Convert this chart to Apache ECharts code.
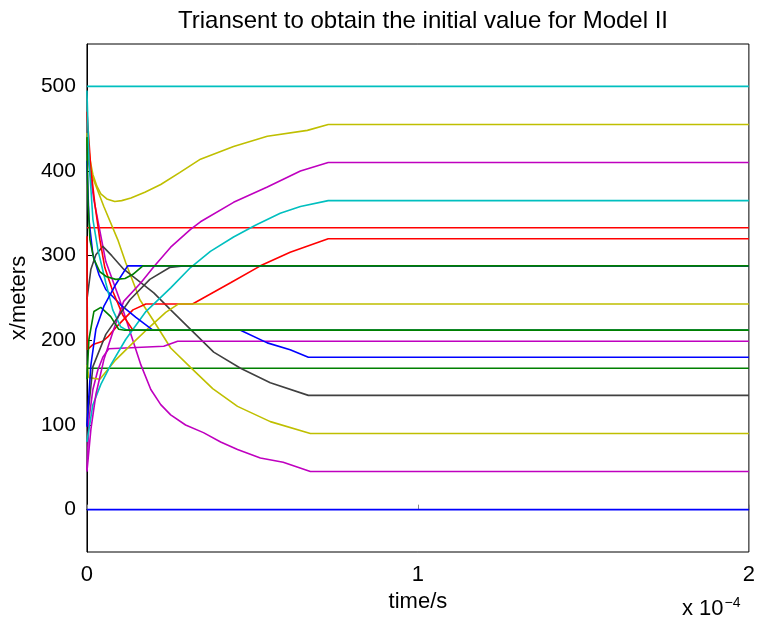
<!DOCTYPE html>
<html>
<head>
<meta charset="utf-8">
<title>Triansent to obtain the initial value for Model II</title>
<script src="https://cdn.jsdelivr.net/npm/echarts@6/dist/echarts.min.js"></script>
<style>
  html, body { margin: 0; padding: 0; background: #ffffff; }
  #chart { width: 758px; height: 625px; }
</style>
</head>
<body>
<div id="chart"></div>
<script>
// time is in units of 1e-4 s, positions in meters

// fixed nodes (constant over the whole run)
const tFixed = [0, 2];
const vFixed0 = [0, 0];
const vFixed167 = [167, 167];
const vFixed333 = [333, 333];
const vFixed500 = [500, 500];

// moving nodes
const tM3 = [0, 0.021, 0.057, 0.099, 0.133, 0.163, 0.193, 0.223, 0.253, 0.298, 0.352, 0.404, 0.455, 0.524, 0.593, 0.675, 2];
const vM3 = [425, 366, 293, 248, 207, 171, 142, 124, 112, 100, 91, 80, 71, 61, 56, 45, 45];

const tY3 = [0, 0.012, 0.051, 0.093, 0.117, 0.16, 0.208, 0.253, 0.313, 0.38, 0.455, 0.554, 0.675, 2];
const vY3 = [440, 398, 358, 319, 292, 248, 219, 191, 168, 143, 122, 104, 90, 90];

const tK2 = [0, 0.012, 0.027, 0.048, 0.075, 0.111, 0.202, 0.253, 0.313, 0.383, 0.464, 0.554, 0.669, 2];
const vK2 = [248, 284, 301, 311, 300, 284, 256, 236, 213, 186, 167, 150, 135, 135];

const tB1 = [0, 0.006, 0.018, 0.036, 0.057, 0.102, 0.148, 0.199, 0.464, 0.545, 0.614, 0.669, 2];
const vB1 = [412, 343, 301, 278, 260, 242, 227, 212, 212, 197, 189, 180, 180];

const tR1 = [0, 0.0015, 0.018, 0.048, 0.063, 0.087, 0.139, 0.178, 0.319, 0.434, 0.524, 0.614, 0.729, 2];
const vR1 = [323, 189, 195, 199, 204, 215, 236, 243, 243, 268, 288, 304, 320, 320];

const tC2 = [0, 0.006, 0.018, 0.033, 0.057, 0.078, 0.102, 0.12, 2];
const vC2 = [495, 414, 343, 307, 268, 236, 216, 212, 212];

const tR2 = [0, 0.012, 0.024, 0.039, 0.054, 0.078, 0.108, 0.139, 2];
const vR2 = [470, 402, 361, 319, 286, 258, 230, 212, 212];

const tM2 = [0, 0.006, 0.018, 0.033, 0.048, 0.066, 0.232, 0.274, 2];
const vM2 = [47, 106, 142, 165, 180, 190, 193, 199, 199];

const tY2 = [0, 0.006, 0.039, 0.087, 0.139, 0.19, 0.238, 0.277, 2];
const vY2 = [171, 156, 154, 177, 197, 216, 233, 243, 243];

const tK1 = [0, 0.018, 0.057, 0.13, 0.19, 0.25, 0.298, 2];
const vK1 = [100, 169, 207, 248, 272, 286, 288, 288];

const tB2 = [0, 0.003, 0.012, 0.027, 0.051, 0.087, 0.123, 2];
const vB2 = [98, 118, 171, 213, 240, 266, 288, 288];

const tGa = [0, 0.003, 0.009, 0.021, 0.039, 0.06, 0.087, 0.115, 0.139, 0.169, 2];
const vGa = [440, 366, 319, 296, 281, 275, 272, 273, 278, 288, 288];

const tGb = [0, 0.006, 0.021, 0.042, 0.072, 0.096, 0.114, 2];
const vGb = [154, 201, 234, 239, 228, 213, 212, 212];

const tC1 = [0, 0.018, 0.042, 0.072, 0.117, 0.178, 0.253, 0.313, 0.373, 0.443, 0.509, 0.584, 0.645, 0.729, 2];
const vC1 = [80, 124, 148, 171, 201, 234, 262, 286, 305, 322, 336, 350, 358, 365, 365];

const tM1 = [0, 0.012, 0.027, 0.051, 0.081, 0.111, 0.163, 0.202, 0.253, 0.313, 0.343, 0.443, 0.545, 0.645, 0.729, 2];
const vM1 = [45, 95, 136, 177, 213, 246, 268, 287, 310, 331, 340, 363, 381, 400, 410, 410];

const tY1 = [0, 0.01, 0.018, 0.03, 0.042, 0.06, 0.084, 0.105, 0.133, 0.175, 0.223, 0.28, 0.343, 0.443, 0.545, 0.666, 0.729, 2];
const vY1 = [445, 412, 396, 382, 373, 367, 364, 365, 368, 375, 384, 398, 414, 429, 441, 448, 455, 455];

// tick labels
const xTicks = [0, 1, 2];
const yTicks = [0, 100, 200, 300, 400, 500];

const COLOR = {
  b: '#0000ff', g: '#008000', r: '#ff0000', c: '#00bfbf',
  m: '#bf00bf', y: '#bfbf00', k: '#404040'
};

// draw order: later entries are painted on top
const traces = [
  [tFixed, vFixed0, 'b'],
  [tFixed, vFixed167, 'g'],
  [tFixed, vFixed333, 'r'],
  [tFixed, vFixed500, 'c'],
  [tM3, vM3, 'm'],
  [tY3, vY3, 'y'],
  [tK2, vK2, 'k'],
  [tR1, vR1, 'r'],
  [tM2, vM2, 'm'],
  [tY2, vY2, 'y'],
  [tC1, vC1, 'c'],
  [tM1, vM1, 'm'],
  [tY1, vY1, 'y'],
  [tB1, vB1, 'b'],
  [tR2, vR2, 'r'],
  [tC2, vC2, 'c'],
  [tGb, vGb, 'g'],
  [tK1, vK1, 'k'],
  [tB2, vB2, 'b'],
  [tGa, vGa, 'g']
];

const series = traces.map(([t, v, c]) => ({
  type: 'line',
  data: t.map((x, i) => [x, v[i]]),
  showSymbol: false,
  lineStyle: { color: COLOR[c], width: 1.6 },
  itemStyle: { color: COLOR[c] },
  animation: false,
  silent: true
}));

const FONT = 'Liberation Sans, Arial, Helvetica, sans-serif';

const chart = echarts.init(document.getElementById('chart'), null, { renderer: 'canvas' });
chart.setOption({
  backgroundColor: '#ffffff',
  animation: false,
  title: {
    text: 'Triansent to obtain the initial value for Model II',
    left: 418, top: 4, textAlign: 'center',
    textStyle: { fontFamily: FONT, fontSize: 24, fontWeight: 'normal', color: '#000' }
  },
  grid: {
    left: 86, right: 9, top: 44, bottom: 73,
    show: true, borderColor: '#000', borderWidth: 1, backgroundColor: '#fff'
  },
  xAxis: {
    type: 'value', min: 0, max: 2, interval: 1,
    name: 'time/s', nameLocation: 'middle', nameGap: 38,
    nameTextStyle: { fontFamily: FONT, fontSize: 22, color: '#000' },
    axisLine: { show: true, lineStyle: { color: '#000', width: 1 } },
    axisTick: { show: true, inside: true, length: 5, lineStyle: { color: '#888' } },
    axisLabel: {
      fontFamily: FONT, fontSize: 22, color: '#000', margin: 12,
      formatter: v => (xTicks.includes(v) ? String(v) : '')
    },
    splitLine: { show: false }
  },
  yAxis: {
    type: 'value', min: -50, max: 550,
    name: 'x/meters', nameLocation: 'middle', nameGap: 55, nameRotate: 90,
    nameTextStyle: { fontFamily: FONT, fontSize: 22, color: '#000' },
    axisLine: { show: true, lineStyle: { color: '#000', width: 1 } },
    axisTick: { show: true, inside: true, length: 5, customValues: yTicks, lineStyle: { color: '#000' } },
    axisLabel: { fontFamily: FONT, fontSize: 21, color: '#000', margin: 11, customValues: yTicks },
    splitLine: { show: false }
  },
  graphic: [
    {
      type: 'text', left: 682, top: 596,
      style: {
        text: 'x 10{s|−4}',
        rich: { s: { fontSize: 14, fontFamily: FONT, verticalAlign: 'top', padding: [0, 0, 12, 1] } },
        fontFamily: FONT, fontSize: 22, fill: '#000'
      }
    }
  ],
  series: series
});
</script>
</body>
</html>
